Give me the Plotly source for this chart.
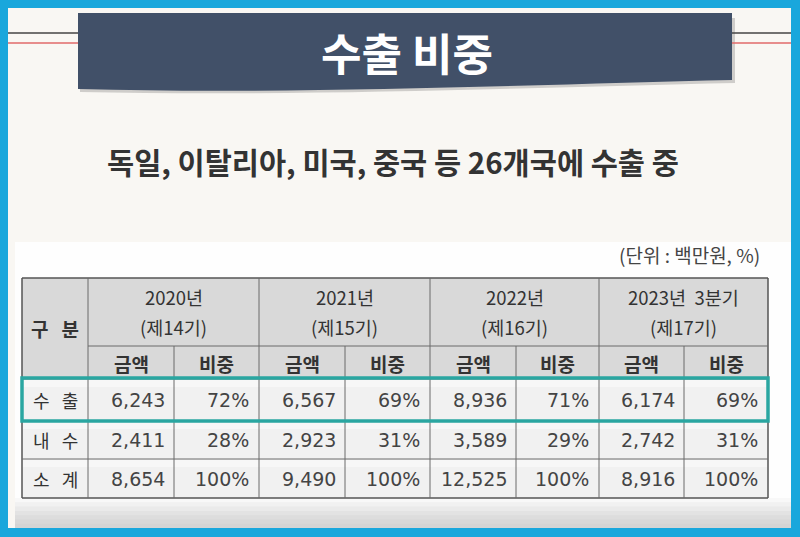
import plotly.graph_objects as go

# ---- data ----
title = "수출 비중"
subtitle = "독일, 이탈리아, 미국, 중국 등 26개국에 수출 중"
unit_note = "(단위 : 백만원, %)"
row_header = "구 분"
years = ["2020년", "2021년", "2022년", "2023년  3분기"]
periods = ["(제14기)", "(제15기)", "(제16기)", "(제17기)"]
sub_headers = ["금액", "비중"]
row_labels = ["수 출", "내 수", "소 계"]
amount_export = [6243, 6567, 8936, 6174]
share_export = [72, 69, 71, 69]
amount_domestic = [2411, 2923, 3589, 2742]
share_domestic = [28, 31, 29, 31]
amount_total = [8654, 9490, 12525, 8916]
share_total = [100, 100, 100, 100]

amounts = [amount_export, amount_domestic, amount_total]
shares = [share_export, share_domestic, share_total]

# ---- layout geometry (pixels) ----
W, H = 800, 537
col_x = [22, 88, 174, 259, 345, 430, 516, 599, 684, 768]
row_y = [278, 346, 379, 421, 459, 498]

KR = "Noto Sans CJK KR"
NUM = "DejaVu Sans"

shapes = []
ann = []

def rect(x0, y0, x1, y1, fill, line=None, lw=0, layer="below"):
    shapes.append(dict(type="rect", xref="x", yref="y", x0=x0, y0=y0, x1=x1, y1=y1,
                       fillcolor=fill, line=dict(color=line or fill, width=lw), layer=layer))

def line(x0, y0, x1, y1, color, w=1):
    shapes.append(dict(type="line", xref="x", yref="y", x0=x0, y0=y0, x1=x1, y1=y1,
                       line=dict(color=color, width=w), layer="above"))

def text(x, y, s, size, color="#333333", font=KR, anchor="center", weight="normal"):
    ann.append(dict(x=x, y=y, xref="x", yref="y", text=s, showarrow=False,
                    xanchor=anchor, yanchor="middle",
                    font=dict(family=font, size=size, color=color, weight=weight)))

def wide(s):
    return s.replace(" ", "\u00a0\u00a0\u00a0")

# slide background
rect(8, 8, 791, 528, "#f9f7f3")
rect(15, 242, 791, 528, "#fefefe")
grad = ["#f8f8f8", "#f1f1f1", "#eaeaea", "#e3e3e3", "#dddddd", "#d8d8d8", "#d4d4d4"]
for i, c in enumerate(grad):
    rect(15, 498 + i * 4.3, 791, 528, c)

# header lines
line(8, 33, 78, 33, "#444444", 1.5)
line(732, 33, 791, 33, "#444444", 1.5)
line(8, 43, 78, 43, "#e06a6a", 1.5)
line(732, 43, 791, 43, "#e06a6a", 1.5)

# banner shadow and banner
shapes.append(dict(type="path", xref="x", yref="y",
                   path="M 80 18 L 735 18 L 735 83 C 550 87, 300 97, 80 92 Z",
                   fillcolor="rgba(60,60,60,0.22)", line=dict(width=0), layer="below"))
shapes.append(dict(type="path", xref="x", yref="y",
                   path="M 78 13 L 732 13 L 732 80 C 550 84, 300 95, 78 89 Z",
                   fillcolor="#415068", line=dict(width=0), layer="below"))
text(407, 52, title, 44, "#ffffff", KR, weight="bold")

text(393, 161, subtitle, 29.5, "#333333", KR, weight="bold")
text(762, 254, unit_note, 19, "#444444", KR, anchor="right")

# table backgrounds
rect(col_x[0], row_y[0], col_x[-1], row_y[2], "#d9d9d9")
rect(col_x[0], row_y[2], col_x[-1], row_y[-1], "#f1f1f1")
for r in range(3):
    rect(col_x[0], row_y[2 + r] + 1, col_x[-1], row_y[2 + r] + 8, "#f7f7f7")

# grid lines
gc = "#6a6a6a"
line(col_x[0], row_y[0], col_x[-1], row_y[0], "#555555", 1.5)
line(col_x[0], row_y[-1], col_x[-1], row_y[-1], "#555555", 1.5)
line(col_x[0], row_y[0], col_x[0], row_y[-1], "#555555", 1.5)
line(col_x[-1], row_y[0], col_x[-1], row_y[-1], "#555555", 1.5)
line(col_x[1], row_y[1], col_x[-1], row_y[1], gc)
for y in row_y[2:-1]:
    line(col_x[0], y, col_x[-1], y, gc)
for i, x in enumerate(col_x[1:-1], start=1):
    y0 = row_y[0] if i % 2 == 1 else row_y[1]
    line(x, y0, x, row_y[-1], gc)

# header text
text((col_x[0] + col_x[1]) / 2, (row_y[0] + row_y[2]) / 2, wide(row_header), 19, "#333333", KR, weight="bold")
for k in range(4):
    xc = (col_x[1 + 2 * k] + col_x[3 + 2 * k]) / 2
    text(xc, 297, years[k], 18.5, "#333333", KR)
    text(xc, 327, periods[k], 18.5, "#333333", KR)
    for j in range(2):
        xs = (col_x[1 + 2 * k + j] + col_x[2 + 2 * k + j]) / 2
        text(xs, (row_y[1] + row_y[2]) / 2 + 1, wide(sub_headers[j]) if False else sub_headers[j],
             19, "#333333", KR, weight="bold")

# body
for r in range(3):
    yc = (row_y[2 + r] + row_y[3 + r]) / 2
    text((col_x[0] + col_x[1]) / 2, yc, wide(row_labels[r]), 18, "#333333", KR)
    for k in range(4):
        text(col_x[2 + 2 * k] - 7, yc, f"{amounts[r][k]:,}", 19, "#444444", NUM, anchor="right")
        text(col_x[3 + 2 * k] - 8, yc, f"{shares[r][k]}%", 19, "#444444", NUM, anchor="right")

# teal highlight of export row
shapes.append(dict(type="rect", xref="x", yref="y", x0=col_x[0], y0=row_y[2] - 1,
                   x1=col_x[-1], y1=row_y[3], fillcolor="rgba(0,0,0,0)",
                   line=dict(color="#2aa6a1", width=3.5), layer="above"))

fig = go.Figure()
fig.add_trace(go.Scatter(x=[0, W], y=[0, H], mode="markers", marker=dict(opacity=0),
                         hoverinfo="skip", showlegend=False))
fig.update_layout(
    width=W, height=H, margin=dict(l=0, r=0, t=0, b=0),
    paper_bgcolor="#19a7dc", plot_bgcolor="#19a7dc",
    xaxis=dict(range=[0, W], visible=False, fixedrange=True),
    yaxis=dict(range=[H, 0], visible=False, fixedrange=True),
    shapes=shapes, annotations=ann, showlegend=False,
)
fig.write_html("out.html", config={"displayModeBar": False},
               post_script="document.body.style.margin='0';document.body.style.overflow='hidden';")
